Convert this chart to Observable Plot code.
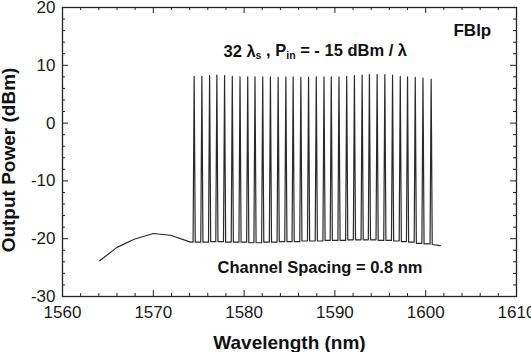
<!DOCTYPE html>
<html>
<head>
<meta charset="utf-8">
<script src="https://cdn.jsdelivr.net/npm/d3@7"></script>
<script src="https://cdn.jsdelivr.net/npm/@observablehq/plot@0.6"></script>
<style>
  html, body { margin: 0; padding: 0; background: #fff; }
  #chart { width: 531px; height: 352px; overflow: hidden; }
</style>
</head>
<body>
<div id="chart"></div>
<script>
// ---- data ----
// ASE gain hump before the signal band (nm, dBm)
const gainX = [1564.1, 1566.0, 1567.9, 1570.0, 1571.9, 1574.1];
const gainY = [-23.8, -21.5, -20.1, -19.1, -19.4, -20.6];
// 32 channel peaks
const peakX = [1574.5, 1575.35, 1576.2, 1577.0, 1577.85, 1578.7, 1579.55, 1580.4,
               1581.2, 1582.05, 1582.9, 1583.75, 1584.6, 1585.4, 1586.25, 1587.1,
               1587.95, 1588.8, 1589.6, 1590.45, 1591.3, 1592.15, 1593.0, 1593.8,
               1594.65, 1595.5, 1596.35, 1597.2, 1598.0, 1598.85, 1599.7, 1600.6];
const peakY = [8.1, 8.1, 8.2, 8.3, 8.2, 8.1, 8.0, 8.0,
               8.0, 8.0, 8.0, 7.9, 8.0, 8.0, 7.9, 7.9,
               8.0, 8.0, 8.0, 8.0, 8.1, 8.2, 8.3, 8.4,
               8.4, 8.4, 8.3, 8.1, 8.0, 7.9, 7.8, 7.6];
// floor between channels (33 values: before first, between, after last)
const valleyY = [-20.6, -20.6, -20.6, -20.5, -20.5, -20.6, -20.6, -20.6, -20.7,
                 -20.7, -20.6, -20.6, -20.5, -20.5, -20.5, -20.4, -20.4, -20.4,
                 -20.3, -20.3, -20.3, -20.2, -20.2, -20.2, -20.2, -20.3, -20.3,
                 -20.4, -20.5, -20.6, -20.8, -20.9, -21.0];
const tailX = [1601.6];
const tailY = [-21.2];

// axis ticks
const xTicks = [1560, 1570, 1580, 1590, 1600, 1610];
const xMinor = [1562, 1564, 1566, 1568, 1572, 1574, 1576, 1578, 1582, 1584, 1586, 1588,
                1592, 1594, 1596, 1598, 1602, 1604, 1606, 1608];
const yTicks = [-30, -20, -10, 0, 10, 20];
const yMinor = [-28, -26, -24, -22, -18, -16, -14, -12, -8, -6, -4, -2,
                2, 4, 6, 8, 12, 14, 16, 18];

// texts
const xTitle = "Wavelength (nm)";
const yTitle = "Output Power (dBm)";
const tagText = "FBlp";
const spacingText = "Channel Spacing = 0.8 nm";
const headParts = [["32 ", false], ["λ", false], ["s", true], [" , P", false], ["in", true], [" = - 15 dBm / λ", false]];
const headPlain = headParts.map(p => p[0]).join("");

// ---- build the trace ----
const trace = [];
gainX.forEach((x, i) => trace.push({x, y: gainY[i]}));
const w = 0.12;
peakX.forEach((x, i) => {
  trace.push({x: x - w, y: valleyY[i]});
  trace.push({x: x, y: peakY[i]});
  trace.push({x: x + w, y: valleyY[i + 1]});
});
tailX.forEach((x, i) => trace.push({x, y: tailY[i]}));

const W = 531, H = 352;
const mL = 62, mR = 15, mT = 7, mB = 56;
const fw = W - mL - mR, fh = H - mT - mB;
const font = "Arial, 'Liberation Sans', sans-serif";

const plot = Plot.plot({
  width: W, height: H,
  marginLeft: mL, marginRight: mR, marginTop: mT, marginBottom: mB,
  style: {fontFamily: font, background: "#fff", color: "#111", overflow: "visible"},
  x: {domain: [1560, 1610]},
  y: {domain: [-30, 20]},
  marks: [
    Plot.axisX(xTicks, {tickSize: 0, tickPadding: 9, fontSize: 17, label: null, tickFormat: d => String(d), fill: "#1a1a1a"}),
    Plot.axisY(yTicks, {tickSize: 0, tickPadding: 7, fontSize: 17, label: null, tickFormat: d => String(d), fill: "#1a1a1a"}),
    // inward ticks on all four sides
    Plot.ruleX(xTicks, {insetTop: fh - 6, stroke: "#222"}),
    Plot.ruleX(xMinor, {insetTop: fh - 3, stroke: "#222"}),
    Plot.ruleX(xTicks, {insetBottom: fh - 6, stroke: "#222"}),
    Plot.ruleX(xMinor, {insetBottom: fh - 3, stroke: "#222"}),
    Plot.ruleY(yTicks, {insetRight: fw - 6, stroke: "#222"}),
    Plot.ruleY(yMinor, {insetRight: fw - 3, stroke: "#222"}),
    Plot.ruleY(yTicks, {insetLeft: fw - 6, stroke: "#222"}),
    Plot.ruleY(yMinor, {insetLeft: fw - 3, stroke: "#222"}),
    Plot.frame({stroke: "#222", strokeWidth: 1.3}),
    Plot.line(trace, {x: "x", y: "y", stroke: "#2a2a2a", strokeWidth: 1.2}),
    Plot.text([tagText], {x: 1603.06, y: 15.0, text: d => d, textAnchor: "start", lineAnchor: "bottom", fontSize: 17, fontWeight: "bold", fill: "#111"}),
    Plot.text([spacingText], {x: 1577.07, y: -25.97, text: d => d, textAnchor: "start", lineAnchor: "bottom", fontSize: 16.5, fontWeight: "bold", fill: "#111"}),
    Plot.text([headPlain], {x: 1577.73, y: 11.52, text: d => d, textAnchor: "start", lineAnchor: "bottom", fontSize: 16.5, fontWeight: "bold", fill: "#111"}),
    Plot.text([xTitle], {frameAnchor: "bottom", text: d => d, dy: 52, lineAnchor: "bottom", fontSize: 19, fontWeight: "bold", fill: "#111"})
  ]
});

const svg = d3.select(plot);

// rebuild the headline with small subscript parts
svg.selectAll("text").filter(function () { return this.textContent === headPlain; }).each(function () {
  const t = d3.select(this);
  t.text(null);
  let prevSmall = false;
  headParts.forEach(([s, small]) => {
    const sp = t.append("tspan").text(s);
    if (small) { sp.attr("font-size", "10.5px"); if (!prevSmall) sp.attr("dy", "0.2em"); }
    else if (prevSmall) sp.attr("dy", "-0.13em");
    prevSmall = small;
  });
});

// y axis title (rotated)
svg.append("text")
  .attr("transform", "translate(15,160) rotate(-90)")
  .attr("text-anchor", "middle")
  .attr("font-family", font)
  .attr("font-size", 19)
  .attr("font-weight", "bold")
  .attr("fill", "#111")
  .text(yTitle);

document.getElementById("chart").appendChild(plot);
</script>
</body>
</html>
